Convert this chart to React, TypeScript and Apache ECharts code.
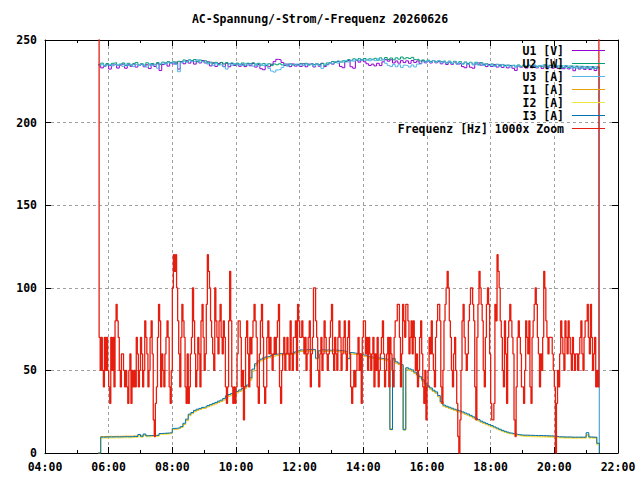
import React, { useEffect, useRef } from "react";
import * as echarts from "echarts";

const TITLE = "AC-Spannung/-Strom/-Frequenz 20260626";
const seriesNames = ["U1 [V]", "U2 [W]", "U3 [A]", "I1 [A]", "I2 [A]", "I3 [A]", "Frequenz [Hz] 1000x Zoom"];
const seriesColors = ["#9400d3", "#009e73", "#56b4e9", "#e69f00", "#f0e442", "#0072b2", "#e51e10"];

// x axis: minutes since midnight
const xMinMinutes = 240;
const xMaxMinutes = 1320;
const xTickStepMinutes = 120;
const yMin = 0;
const yMax = 250;
const yStep = 50;

// voltage / current samples: every 5 min starting 05:40
const sampleStartMinutes = 340;
const sampleStepMinutes = 5;
// frequency samples: every 2 min starting 05:40
const freqStartMinutes = 340;
const freqStepMinutes = 2;

const u1 = [
  235.2, 233.1, 234.0, 235.3,
  232.4, 234.9, 235.3, 233.0, 234.8, 235.4, 232.9, 235.0, 234.1, 235.5, 233.6, 234.6,
  235.2, 233.8, 235.0, 232.7, 235.3, 234.0, 235.6, 231.5, 235.1, 236.0, 234.2, 236.2,
  235.5, 236.6, 232.4, 236.9, 235.6, 237.5, 236.0, 237.4, 235.4, 237.2, 236.1, 237.6,
  236.1, 236.8, 234.3, 236.2, 234.0, 235.8, 236.3, 233.9, 235.9, 233.8, 235.7, 234.6,
  235.4, 234.1, 235.3, 233.9, 235.6, 234.4, 235.8, 233.6, 235.2, 232.6, 232.0, 234.4,
  233.8, 235.3, 236.9, 238.3, 238.0, 236.4, 234.6, 235.4, 233.9, 235.5, 234.2, 235.3,
  234.0, 235.6, 233.8, 235.4, 235.8, 233.7, 235.5, 234.1, 235.9, 233.9, 235.2, 236.1,
  235.4, 236.9, 237.1, 234.0, 233.2, 237.0, 237.6, 233.8, 232.9, 237.9, 236.6, 238.2,
  236.8, 235.6, 234.6, 235.4, 234.3, 235.9, 234.5, 236.8, 238.1, 237.2, 238.0, 236.1,
  237.3, 236.0, 237.5, 236.3, 237.4, 235.9, 237.6, 236.4, 237.3, 235.8, 237.4, 236.2,
  237.2, 236.1, 237.5, 236.2, 236.9, 235.6, 236.7, 235.2, 236.6, 235.3, 236.7, 235.4,
  235.8, 233.9, 233.2, 235.6, 233.5, 232.9, 235.5, 236.1, 234.8, 235.4, 233.9, 235.2,
  234.0, 235.2, 233.6, 234.9, 233.4, 234.7, 233.1, 234.6, 232.9, 231.6, 234.2, 233.5,
  234.4, 233.0, 234.5, 233.2, 234.6, 233.1, 234.4, 232.8, 234.3, 233.2, 234.5, 232.9,
  234.2, 232.8, 234.0, 232.6, 233.9, 232.5, 233.8, 231.4, 233.8, 232.4, 233.6, 232.2,
  233.5, 232.1, 233.4, 231.5, 233.2, 0,
];

const u2 = [
  235.0, 236.0, 234.7, 235.8,
  234.6, 235.9, 236.3, 234.8, 235.3, 236.1, 234.6, 235.9, 234.8, 235.6, 236.4, 234.9,
  235.7, 234.8, 236.2, 234.9, 235.8, 235.0, 236.3, 235.1, 236.6, 236.0, 236.9, 236.1,
  236.8, 235.9, 237.1, 236.6, 237.9, 236.8, 238.0, 237.4, 238.2, 236.8, 237.9, 236.9,
  237.4, 236.0, 236.6, 235.7, 236.5, 235.2, 236.4, 235.5, 236.3, 235.6, 236.1, 235.0,
  236.0, 235.0, 236.1, 234.8, 235.9, 235.5, 236.2, 234.9, 235.9, 234.8, 235.7, 234.6,
  235.6, 234.5, 235.5, 235.0, 235.6, 234.9, 235.5, 234.4, 235.6, 235.0, 235.3, 234.7,
  235.8, 234.6, 235.9, 234.9, 235.4, 235.0, 235.6, 235.1, 235.8, 234.7, 236.1, 236.3,
  237.0, 236.4, 237.2, 236.6, 237.4, 236.8, 238.1, 237.4, 238.6, 237.9, 238.7, 237.8,
  238.8, 237.9, 238.6, 238.1, 238.9, 237.8, 239.2, 238.0, 239.4, 238.2, 239.1, 238.0,
  239.2, 238.4, 239.7, 238.6, 239.3, 238.8, 239.5, 238.1, 238.4, 237.3, 237.9, 237.1,
  237.8, 236.9, 237.6, 236.8, 237.4, 236.9, 237.3, 236.2, 237.2, 236.0, 237.1, 235.9,
  236.9, 235.6, 236.7, 235.5, 236.5, 235.4, 236.5, 235.1, 236.3, 234.9, 235.6, 234.5,
  235.5, 234.7, 235.3, 234.6, 235.2, 234.5, 234.9, 234.4, 234.8, 234.2, 234.9, 234.1,
  234.8, 234.2, 234.7, 234.0, 234.6, 234.1, 234.5, 233.8, 235.0, 233.9, 234.7, 233.8,
  234.6, 233.6, 234.5, 233.4, 234.4, 233.3, 234.3, 233.2, 234.2, 233.1, 234.1, 233.0,
  234.0, 232.9, 233.9, 232.8, 233.8, 0,
];

const u3 = [
  234.8, 235.4, 234.2, 234.9,
  235.1, 234.3, 235.3, 234.6, 235.5, 234.0, 235.4, 234.5, 235.2, 233.9, 235.3, 234.6,
  235.4, 234.3, 233.6, 235.6, 234.7, 235.3, 232.9, 235.7, 236.2, 235.4, 236.3, 235.8,
  236.4, 235.2, 230.8, 236.2, 237.2, 236.5, 237.9, 236.8, 237.2, 238.0, 236.6, 237.1,
  236.6, 235.4, 236.0, 234.6, 235.9, 234.8, 235.1, 233.8, 232.4, 235.6, 234.7, 235.8,
  234.9, 235.5, 234.6, 235.9, 234.7, 235.3, 234.2, 235.6, 234.3, 235.5, 234.5, 235.4,
  232.8, 231.2, 230.6, 231.9, 232.2, 233.4, 235.3, 234.2, 235.3, 234.8, 235.4, 234.4,
  235.3, 234.5, 235.4, 234.7, 235.5, 234.2, 235.6, 234.6, 232.8, 235.4, 234.9, 236.2,
  235.6, 237.0, 236.0, 237.1, 236.6, 237.5, 236.7, 237.8, 237.2, 238.3, 237.5, 238.0,
  237.6, 238.3, 237.4, 238.4, 237.5, 238.6, 237.7, 238.3, 235.9, 234.6, 233.9, 235.2,
  233.8, 235.0, 233.4, 234.8, 234.4, 233.6, 234.9, 233.7, 235.4, 235.5, 236.8, 236.4,
  237.4, 236.4, 237.6, 236.5, 237.4, 236.1, 237.2, 235.9, 237.0, 235.7, 236.8, 235.4,
  236.6, 235.3, 236.4, 235.1, 236.3, 234.9, 236.1, 234.8, 235.8, 234.6, 235.1, 234.5,
  235.1, 234.0, 235.2, 233.9, 235.0, 233.8, 234.9, 233.6, 234.7, 233.5, 234.6, 233.7,
  234.6, 233.5, 234.8, 233.6, 234.9, 233.4, 234.6, 234.9, 233.5, 234.7, 233.4, 234.5,
  234.3, 234.6, 233.2, 234.4, 233.1, 234.3, 233.0, 234.2, 232.9, 234.1, 232.8, 234.0,
  232.8, 233.9, 232.6, 233.8, 232.7, 0,
];

const i1 = [
  0, 10.0, 10.0, 10.0,
  10.1, 10.0, 10.1, 10.1, 10.1, 10.2, 10.2, 10.2, 10.2, 10.3, 10.3, 10.6,
  10.3, 10.8, 10.5, 10.6, 10.6, 10.7, 10.7, 11.5, 11.7, 11.8, 11.9, 12.0,
  14.2, 14.5, 14.8, 15.4, 17.2, 19.6, 22.6, 23.8, 25.0, 25.8, 26.4, 27.0,
  27.3, 28.0, 28.6, 29.2, 29.8, 30.6, 31.2, 32.1, 33.6, 34.5, 35.1, 35.9,
  36.4, 37.3, 38.1, 39.2, 40.3, 44.2, 49.6, 52.8, 54.7, 55.8, 56.6, 57.2,
  57.7, 58.2, 58.7, 59.1, 59.4, 59.3, 59.6, 59.5, 59.7, 59.6, 60.4, 61.0,
  61.5, 61.4, 61.8, 61.7, 62.0, 61.8, 57.0, 61.2, 61.7, 61.5, 61.6, 61.4,
  61.7, 61.5, 61.3, 61.2, 61.0, 60.7, 57.0, 60.0, 59.7, 59.5, 59.1, 58.7,
  58.4, 58.0, 57.5, 57.2, 57.1, 56.7, 56.6, 56.3, 56.0, 55.6, 14.6, 56.5,
  54.4, 53.6, 52.7, 14.5, 50.8, 50.1, 49.5, 48.2, 46.7, 45.4, 43.5, 41.2,
  39.8, 38.6, 37.2, 36.2, 34.0, 30.3, 28.3, 27.6, 27.0, 26.4, 25.8, 25.3,
  24.8, 24.2, 23.5, 22.9, 22.1, 21.2, 20.4, 19.5, 18.6, 17.9, 17.2, 16.5,
  15.9, 15.3, 14.6, 13.9, 13.2, 12.6, 12.1, 11.7, 11.3, 11.0, 10.8, 10.6,
  10.5, 10.4, 10.4, 10.3, 10.3, 10.2, 10.2, 10.2, 10.1, 10.1, 10.0, 10.0,
  9.9, 9.6, 9.6, 9.5, 9.5, 9.5, 9.4, 9.4, 9.4, 9.4, 9.4, 9.4,
  11.0, 9.5, 9.4, 9.4, 5.5, 0,
];

const i2 = [
  0, 9.0, 9.0, 9.1,
  9.1, 9.1, 9.2, 9.1, 9.2, 9.2, 9.3, 9.2, 9.3, 9.4, 9.4, 10.4,
  9.5, 10.9, 9.8, 9.9, 10.0, 10.0, 10.1, 11.2, 11.3, 11.4, 11.5, 11.7,
  14.4, 14.6, 14.9, 15.6, 17.6, 20.0, 23.0, 24.1, 25.4, 26.1, 26.7, 27.3,
  27.6, 28.3, 28.9, 29.6, 30.2, 31.0, 31.6, 32.5, 34.1, 35.0, 35.5, 36.3,
  36.8, 37.7, 38.5, 39.6, 40.7, 44.9, 50.2, 53.4, 55.2, 56.3, 57.1, 57.7,
  58.1, 58.6, 59.1, 59.5, 59.8, 59.7, 60.0, 59.9, 60.1, 60.0, 60.8, 61.4,
  62.0, 61.8, 62.2, 62.1, 62.4, 62.2, 57.2, 61.5, 62.1, 61.9, 62.0, 61.8,
  62.1, 61.9, 61.7, 61.6, 61.4, 61.1, 57.1, 60.4, 60.1, 59.9, 59.5, 59.1,
  58.8, 58.4, 57.9, 57.6, 57.5, 57.1, 57.0, 56.7, 56.4, 56.0, 14.0, 56.9,
  54.8, 54.0, 53.1, 13.8, 51.2, 50.5, 49.9, 48.6, 47.1, 45.8, 43.9, 41.6,
  40.2, 39.0, 37.6, 36.6, 34.4, 30.6, 28.6, 27.9, 27.3, 26.7, 26.1, 25.6,
  25.1, 24.5, 23.8, 23.2, 22.4, 21.5, 20.7, 19.8, 18.9, 18.2, 17.5, 16.8,
  16.2, 15.4, 14.7, 14.0, 13.3, 12.7, 12.2, 11.6, 11.2, 10.8, 10.4, 10.2,
  10.0, 9.9, 9.9, 9.8, 9.8, 9.7, 9.7, 9.7, 9.6, 9.6, 9.5, 9.5,
  9.4, 9.1, 9.1, 9.0, 9.0, 9.0, 8.9, 8.9, 9.0, 8.9, 8.9, 8.9,
  10.6, 9.0, 8.9, 8.9, 5.0, 0,
];

const i3 = [
  0, 9.6, 9.6, 9.7,
  9.7, 9.7, 9.8, 9.7, 9.8, 9.8, 9.9, 9.8, 9.9, 10.0, 10.0, 11.2,
  10.1, 11.5, 10.4, 10.5, 10.6, 10.6, 10.7, 11.8, 11.9, 12.0, 12.1, 12.3,
  14.9, 15.0, 15.3, 16.0, 18.0, 20.5, 23.5, 24.5, 25.8, 26.5, 27.0, 27.6,
  28.0, 28.7, 29.3, 30.0, 30.6, 31.4, 32.0, 33.0, 34.6, 35.4, 36.0, 36.8,
  37.3, 38.2, 39.0, 40.1, 41.2, 45.5, 50.8, 54.0, 55.8, 56.8, 57.6, 58.2,
  58.6, 59.1, 59.6, 60.0, 60.2, 60.1, 60.4, 60.3, 60.5, 60.4, 61.2, 61.8,
  62.4, 62.2, 62.6, 62.5, 62.8, 62.6, 57.4, 61.9, 62.5, 62.3, 62.4, 62.2,
  62.5, 62.3, 62.1, 62.0, 61.8, 61.5, 57.3, 60.8, 60.5, 60.3, 59.9, 59.5,
  59.2, 58.8, 58.3, 58.0, 57.9, 57.5, 57.4, 57.1, 56.8, 56.4, 14.2, 57.3,
  55.2, 54.4, 53.5, 14.1, 51.6, 50.9, 50.3, 49.0, 47.5, 46.2, 44.3, 42.0,
  40.6, 39.4, 38.0, 37.0, 34.8, 31.0, 29.0, 28.3, 27.7, 27.1, 26.5, 26.0,
  25.5, 24.9, 24.2, 23.6, 22.8, 21.9, 21.1, 20.2, 19.3, 18.6, 17.9, 17.2,
  16.6, 15.8, 15.1, 14.4, 13.7, 13.1, 12.6, 12.1, 11.7, 11.4, 11.1, 10.9,
  10.8, 10.8, 10.7, 10.7, 10.6, 10.6, 10.6, 10.5, 10.5, 10.4, 10.4, 10.3,
  10.2, 9.8, 9.8, 9.7, 9.7, 9.7, 9.6, 9.6, 9.6, 9.6, 9.6, 9.6,
  12.3, 9.7, 9.6, 9.6, 5.9, 0,
];

const freq = [
  400, 70, 50, 70, 50, 40, 70, 50, 70, 50,
  40, 30, 70, 50, 70, 40, 80, 90, 80, 70,
  50, 40, 60, 60, 50, 40, 50, 40, 30, 50,
  60, 30, 50, 40, 50, 40, 70, 60, 40, 50,
  70, 60, 40, 50, 80, 70, 60, 40, 50, 70,
  80, 60, 20, 10, 30, 40, 70, 90, 80, 40,
  60, 50, 40, 60, 70, 80, 70, 40, 30, 50,
  100, 120, 110, 120, 100, 80, 60, 40, 70, 90,
  80, 70, 40, 30, 60, 30, 40, 60, 70, 100,
  80, 60, 40, 50, 70, 60, 40, 80, 90, 70,
  50, 60, 90, 120, 110, 100, 80, 70, 60, 50,
  100, 80, 70, 60, 80, 90, 70, 60, 80, 70,
  40, 30, 40, 80, 110, 80, 40, 30, 40, 30,
  40, 60, 80, 80, 70, 40, 50, 20, 40, 70,
  80, 60, 40, 70, 60, 70, 80, 90, 80, 70,
  40, 30, 60, 80, 90, 70, 40, 30, 40, 70,
  80, 60, 70, 60, 50, 60, 70, 60, 70, 80,
  90, 40, 30, 50, 60, 70, 50, 60, 70, 60,
  50, 80, 60, 50, 70, 70, 80, 50, 90, 80,
  70, 70, 80, 70, 60, 70, 50, 60, 70, 80,
  40, 60, 70, 100, 100, 80, 70, 50, 40, 60,
  70, 50, 60, 80, 70, 60, 50, 60, 70, 80,
  90, 60, 50, 70, 60, 50, 70, 80, 70, 50,
  60, 70, 80, 60, 50, 70, 80, 60, 40, 30,
  40, 50,
  40, 50, 60, 70, 50, 60, 30, 70, 80, 80,
  60, 70, 50, 70, 60, 50, 60, 70, 40, 60,
  50, 70, 40, 50, 60, 70, 80, 60, 40, 50,
  60, 70, 40, 70, 60, 50, 40, 70, 80, 80,
  90, 90, 70, 40, 60, 90, 80, 70, 90, 90,
  80, 60, 70, 80, 60, 80, 70, 50, 60, 40,
  50, 70, 80, 60, 40, 30, 50, 20, 40, 50,
  70, 60, 80, 60, 50, 40, 70, 80, 90, 90,
  80, 40, 30, 50, 80, 90, 100, 110, 100, 80,
  70, 50, 40, 60, 70, 50, 30, 10, 0, 20,
  50, 80, 90, 70, 60, 50, 60, 80, 90, 100,
  100, 90, 80, 40, 20, 70, 90, 110, 100, 90,
  80, 50,
  40, 70, 90, 100, 90, 60, 30, 20, 20, 30,
  90, 80, 120, 110, 100, 80, 70, 50, 40, 80,
  60, 30, 70, 80, 90, 80, 70, 60, 20, 10,
  40, 70, 80, 70, 60, 40, 40, 30, 50, 80,
  70, 60, 80, 40, 30, 70, 80, 90, 100, 90,
  70, 60, 40, 60, 50, 70, 110, 100, 80, 70,
  60, 70, 70, 70, 60, 50, 40, 0, 30, 50,
  40, 60, 80, 70, 60, 50, 80, 70, 60, 80,
  70, 60, 50, 70, 60, 50, 60, 60, 50, 60,
  70, 80, 60, 50, 70, 80, 80, 90, 70, 60,
  90, 70, 50, 60, 70, 40, 50, 40, 400,
];

const FONT = "'DejaVu Sans Mono', 'Liberation Mono', monospace";

function toPairs(values: number[], start: number, step: number) {
  return values.map((v, i) => [start + i * step, v]);
}

function hhmm(v: number) {
  const h = Math.floor(v / 60);
  const m = v % 60;
  return (h < 10 ? "0" : "") + h + ":" + (m < 10 ? "0" : "") + m;
}

export default function App() {
  const ref = useRef<HTMLDivElement>(null);

  useEffect(() => {
    if (!ref.current) return;
    const chart = echarts.init(ref.current, undefined, { renderer: "svg" });
    const seriesValues = [u1, u2, u3, i1, i2, i3];
    const labelStyle = { fontFamily: FONT, fontSize: 11.5, fontWeight: "bold" as const, color: "#000" };
    const gridLine = { show: true, lineStyle: { color: "#a0a0a0", width: 1, type: [3, 3] as any } };
    const axisLine = { show: true, onZero: false, lineStyle: { color: "#000", width: 1 } };

    const series: any[] = seriesValues.map((vals, k) => ({
      name: seriesNames[k],
      type: "line",
      step: "end",
      data: toPairs(vals, sampleStartMinutes, sampleStepMinutes),
      showSymbol: false,
      symbol: "none",
      lineStyle: { width: 1, color: seriesColors[k] },
      itemStyle: { color: seriesColors[k] },
      clip: true,
      silent: true,
      z: 2 + k * 0.01,
    }));
    series.push({
      name: seriesNames[6],
      type: "line",
      step: "end",
      data: toPairs(freq, freqStartMinutes, freqStepMinutes),
      showSymbol: false,
      symbol: "none",
      lineStyle: { width: 1.3, color: seriesColors[6] },
      itemStyle: { color: seriesColors[6] },
      clip: true,
      silent: true,
      z: 2.1,
    });

    chart.setOption({
      animation: false,
      backgroundColor: "#fff",
      title: {
        text: TITLE,
        left: "center",
        top: 13,
        padding: 0,
        textStyle: { ...labelStyle },
      },
      legend: {
        orient: "vertical",
        right: 35,
        top: 44,
        padding: 0,
        align: "right",
        icon: "rect",
        itemWidth: 33,
        itemHeight: 1.2,
        itemGap: 0,
        selectedMode: false,
        textStyle: { ...labelStyle, lineHeight: 13, padding: [0, 3, 0, 0] },
        data: seriesNames,
      },
      grid: { left: 45, right: 22, top: 40, bottom: 27, containLabel: false },
      xAxis: [
        {
          type: "value",
          position: "bottom",
          min: xMinMinutes,
          max: xMaxMinutes,
          interval: xTickStepMinutes,
          axisLine,
          axisTick: { show: true, inside: true, length: 6, lineStyle: { color: "#000" } },
          minorTick: { show: true, splitNumber: 2, length: 3, lineStyle: { color: "#000" } },
          splitLine: gridLine,
          axisLabel: { ...labelStyle, margin: 8, formatter: (v: number) => hhmm(v) },
        },
        {
          type: "value",
          position: "top",
          min: xMinMinutes,
          max: xMaxMinutes,
          interval: xTickStepMinutes,
          axisLine,
          axisTick: { show: true, inside: true, length: 6, lineStyle: { color: "#000" } },
          minorTick: { show: true, splitNumber: 2, length: 3, lineStyle: { color: "#000" } },
          splitLine: { show: false },
          axisLabel: { show: false },
        },
      ],
      yAxis: [
        {
          type: "value",
          position: "left",
          min: yMin,
          max: yMax,
          interval: yStep,
          axisLine,
          axisTick: { show: true, inside: true, length: 6, lineStyle: { color: "#000" } },
          splitLine: gridLine,
          axisLabel: { ...labelStyle, margin: 8 },
        },
        {
          type: "value",
          position: "right",
          min: yMin,
          max: yMax,
          interval: yStep,
          axisLine,
          axisTick: { show: true, inside: true, length: 6, lineStyle: { color: "#000" } },
          splitLine: { show: false },
          axisLabel: { show: false },
        },
      ],
      series,
    });
    return () => chart.dispose();
  }, []);

  return (
    <div
      ref={ref}
      style={{ position: "fixed", left: 0, top: 0, width: 640, height: 480, background: "#fff" }}
    />
  );
}
